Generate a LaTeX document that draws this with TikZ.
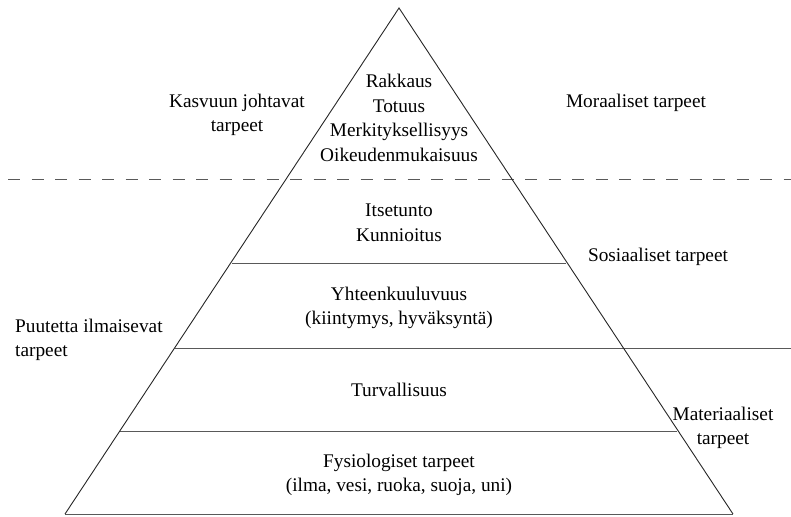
\documentclass[tikz,border=0pt]{standalone}
\usepackage{fontspec}
\setmainfont{Liberation Serif}
\begin{document}
\begin{tikzpicture}[x=1pt,y=-1pt,
  lbl/.style={align=center,inner sep=0pt,font=\fontsize{19.3}{24.5}\selectfont},
  lbll/.style={align=left,inner sep=0pt,font=\fontsize{19.3}{24.5}\selectfont},
  edge/.style={line width=0.9pt,black!85},
  sep/.style={line width=1pt,black!65},
  dashsep/.style={line width=1pt,black!65,dash pattern=on 12pt off 11.5pt}]
\useasboundingbox (0,0) rectangle (791,516);
\coordinate (apex) at (399,8);
\coordinate (bl) at (65,514);
\coordinate (br) at (733,514);
\coordinate (d1) at (8,179);
\coordinate (d2) at (791,179);
\coordinate (l1a) at (232,263);
\coordinate (l1b) at (566,263);
\coordinate (l2a) at (175,348);
\coordinate (l2b) at (791,348);
\coordinate (l3a) at (120,431);
\coordinate (l3b) at (677,431);
\draw[dashsep] (d1) -- (d2);
\draw[sep] (l1a) -- (l1b);
\draw[sep] (l2a) -- (l2b);
\draw[sep] (l3a) -- (l3b);
\draw[sep] (bl) -- (br);
\draw[edge,line join=miter] (bl) -- (apex) -- (br);
\node[lbl] (t1) at (399,118) {Rakkaus\\Totuus\\Merkityksellisyys\\Oikeudenmukaisuus};
\node[lbl] (t2) at (399,223) {Itsetunto\\Kunnioitus};
\node[lbl] (t3) at (399,308) {Yhteenkuuluvuus\\(kiintymys, hyväksyntä)};
\node[lbl] (t4) at (399,390) {Turvallisuus};
\node[lbl] (t5) at (399,475) {Fysiologiset tarpeet\\(ilma, vesi, ruoka, suoja, uni)};
\node[lbl] (k) at (237,115) {Kasvuun johtavat\\tarpeet};
\node[lbl] (m) at (636,103) {Moraaliset tarpeet};
\node[lbl] (s) at (658,257) {Sosiaaliset tarpeet};
\node[lbll,anchor=west] (p) at (15,340) {Puutetta ilmaisevat\\tarpeet};
\node[lbl] (ma) at (723,428) {Materiaaliset\\tarpeet};
\end{tikzpicture}
\end{document}
